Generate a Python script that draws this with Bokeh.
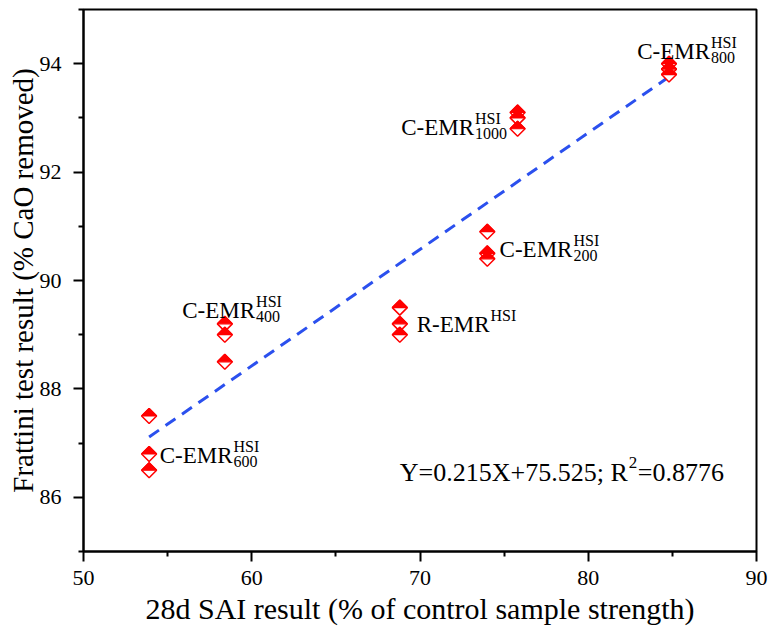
import math
from bokeh.plotting import figure
from bokeh.models import FixedTicker, ColumnDataSource, Range1d
from bokeh.core.properties import value
from bokeh.embed import file_html
from bokeh.resources import INLINE

# ---------------- data ----------------
sai = [53.9, 53.9, 53.9, 58.4, 58.4, 58.4, 68.8, 68.8, 68.8,
       74.0, 74.0, 74.0, 75.8, 75.8, 75.8, 84.8, 84.8, 84.8]
frattini = [87.5, 86.8, 86.5, 89.2, 89.0, 88.5, 89.5, 89.2, 89.0,
            90.9, 90.5, 90.4, 93.1, 93.0, 92.8, 94.0, 93.9, 93.8]

fit_slope = 0.215
fit_intercept = 75.525
fit_x = [53.9, 84.8]

label_main = ["C-EMR", "C-EMR", "R-EMR", "C-EMR", "C-EMR", "C-EMR"]
label_sup = ["HSI", "HSI", "HSI", "HSI", "HSI", "HSI"]
label_sub = ["600", "400", "", "200", "1000", "800"]
label_x = [58.86, 60.2, 74.13, 79.06, 73.21, 87.24]
label_y = [86.77, 89.45, 89.18, 90.57, 92.83, 94.23]

eq_main = "Y=0.215X+75.525; R"
eq_sup = "2"
eq_tail = "=0.8776"
eq_x = 82.35
eq_y = 86.46

x_ticks = [50, 60, 70, 80, 90]
x_minor = [55, 65, 75, 85]
y_ticks = [86, 88, 90, 92, 94]
y_minor = [85, 87, 89, 91, 93, 95]

# ---------------- layout ----------------
X0, X1, Y0, Y1 = 50, 90, 85, 95
FW, FH = 673, 542
px_x = FW / (X1 - X0)
px_y = FH / (Y1 - Y0)

FONT = "Liberation Serif"

p = figure(frame_width=FW, frame_height=FH,
           x_range=Range1d(X0, X1), y_range=Range1d(Y0, Y1),
           output_backend="svg", toolbar_location=None)
p.min_border_left = 83
p.min_border_right = 12
p.min_border_top = 9
p.min_border_bottom = 85
p.background_fill_color = "white"
p.border_fill_color = "white"
p.xgrid.visible = False
p.ygrid.visible = False
p.outline_line_color = "black"
p.outline_line_width = 2

p.xaxis.ticker = FixedTicker(ticks=x_ticks, minor_ticks=x_minor)
p.yaxis.ticker = FixedTicker(ticks=y_ticks, minor_ticks=y_minor)
p.xaxis.axis_label = "28d SAI result (% of control sample strength)"
p.yaxis.axis_label = "Frattini test result (% CaO removed)"
for ax in (p.xaxis, p.yaxis):
    ax.axis_line_width = 2
    ax.axis_line_color = "black"
    ax.major_tick_line_width = 2
    ax.minor_tick_line_width = 2
    ax.major_tick_line_color = "black"
    ax.minor_tick_line_color = "black"
    ax.major_tick_in = 0
    ax.major_tick_out = 10
    ax.minor_tick_in = 0
    ax.minor_tick_out = 5
    ax.major_label_text_font = FONT
    ax.major_label_text_font_size = "22px"
    ax.major_label_text_color = "black"
    ax.axis_label_text_font = FONT
    ax.axis_label_text_font_style = "normal"
    ax.axis_label_text_color = "black"
p.xaxis.axis_label_text_font_size = "30px"
p.yaxis.axis_label_text_font_size = "29px"
p.xaxis.major_label_standoff = 9
p.xaxis.axis_label_standoff = 4
p.yaxis.major_label_standoff = 12
p.yaxis.axis_label_standoff = -2

# ---------------- fit line ----------------
fit_y = [fit_slope * v + fit_intercept for v in fit_x]
p.line(fit_x, fit_y, line_color="#2b50ee", line_width=3, line_dash="12 8")

# ---------------- half-filled diamond markers ----------------
R = 7.5  # half diagonal in px
hw = R / px_x
hh = R / px_y
p.scatter(sai, frattini, marker="square", angle=math.pi / 4, size=R * math.sqrt(2),
          fill_color="white", line_color="red", line_width=1.5)
tri_xs = [[x - hw, x + hw, x] for x in sai]
tri_ys = [[y, y, y + hh] for y in frattini]
p.patches(tri_xs, tri_ys, fill_color="red", line_color="red", line_width=1.2)

# ---------------- labels ----------------
SUP_UP = 9 / px_y
SUB_DN = 6 / px_y
GAP = 1 / px_x
src_main = ColumnDataSource(dict(x=label_x, y=label_y, t=label_main))
p.text(x="x", y="y", text="t", source=src_main, text_font=value(FONT),
       text_font_size="23px", text_align="right", text_baseline="alphabetic",
       text_color="black")
src_sup = ColumnDataSource(dict(x=[v + GAP for v in label_x],
                                y=[v + SUP_UP for v in label_y], t=label_sup))
p.text(x="x", y="y", text="t", source=src_sup, text_font=value(FONT),
       text_font_size="16px", text_align="left", text_baseline="alphabetic",
       text_color="black")
src_sub = ColumnDataSource(dict(x=[v + GAP for v in label_x],
                                y=[v - SUB_DN for v in label_y], t=label_sub))
p.text(x="x", y="y", text="t", source=src_sub, text_font=value(FONT),
       text_font_size="16px", text_align="left", text_baseline="alphabetic",
       text_color="black")

# equation
p.text(x=[eq_x], y=[eq_y], text=[eq_main], text_font=value(FONT),
       text_font_size="26px", text_align="right", text_baseline="alphabetic",
       text_color="black")
p.text(x=[eq_x + GAP], y=[eq_y + 10 / px_y], text=[eq_sup], text_font=value(FONT),
       text_font_size="17px", text_align="left", text_baseline="alphabetic",
       text_color="black")
p.text(x=[eq_x + 10 / px_x], y=[eq_y], text=[eq_tail], text_font=value(FONT),
       text_font_size="26px", text_align="left", text_baseline="alphabetic",
       text_color="black")

open("out.html", "w").write(file_html(p, INLINE))
